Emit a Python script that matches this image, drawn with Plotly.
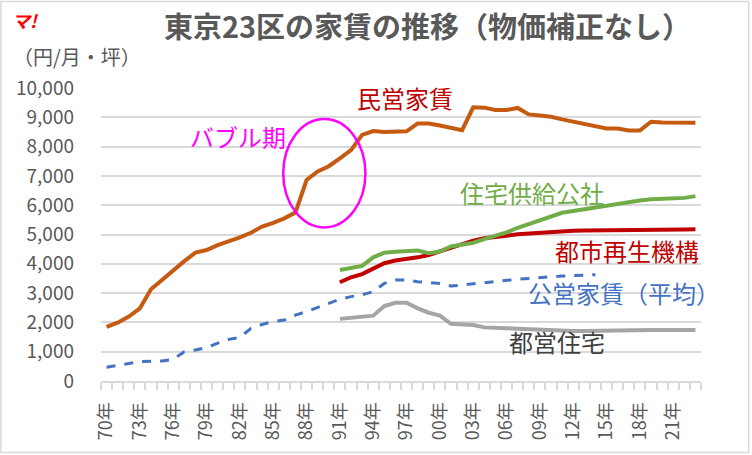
import plotly.graph_objects as go

years = list(range(1970, 2024))

# 民営家賃 1970-2023
private_rent = [1850, 1990, 2200, 2480, 3130, 3450, 3790, 4090, 4380, 4470,
                4640, 4760, 4900, 5060, 5270, 5400, 5550, 5750, 6860, 7150,
                7330, 7600, 7880, 8400, 8530, 8500, 8500, 8520, 8790, 8790,
                8720, 8640, 8560, 9340, 9330, 9250, 9250, 9320, 9100, 9060,
                9020, 8930, 8850, 8770, 8690, 8620, 8620, 8550, 8550, 8850,
                8820, 8820, 8820, 8810]

# 住宅供給公社 / 都市再生機構 / 都営住宅 1991-2023
kosha = [3790, 3850, 3930, 4220, 4380, 4410, 4420, 4450, 4360, 4420,
         4590, 4640, 4720, 4840, 4950, 5070, 5230, 5360, 5500, 5610,
         5740, 5800, 5860, 5950, 6010, 6060, 6120, 6160, 6200, 6220,
         6240, 6250, 6310]
ur = [3370, 3540, 3650, 3850, 4020, 4110, 4150, 4220, 4300, 4420,
      4560, 4680, 4790, 4870, 4930, 4960, 5010, 5040, 5060, 5100,
      5120, 5130, 5140, 5140, 5160, 5140, 5140, 5150, 5160, 5160,
      5170, 5170, 5180]
toei = [2120, 2160, 2200, 2230, 2560, 2670, 2670, 2480, 2330, 2230,
        1950, 1945, 1910, 1830, 1800, 1800, 1780, 1760, 1740, 1730,
        1720, 1710, 1710, 1720, 1730, 1740, 1740, 1740, 1740, 1740,
        1740, 1740, 1740]

# 公営家賃（平均） 1970-2014
public_avg = [470, 535, 600, 660, 670, 685, 740, 1000, 1060, 1140,
              1290, 1420, 1490, 1800, 1930, 2030, 2080, 2250, 2370, 2510,
              2650, 2790, 2880, 2940, 3050, 3330, 3450, 3450, 3390, 3370,
              3330, 3240, 3280, 3330, 3370, 3390, 3450, 3470, 3500, 3540,
              3560, 3580, 3600, 3610, 3630]

tick_years = list(range(1970, 2024, 3))
tick_text = [f"{y % 100:02d}年" for y in tick_years]
y_ticks = list(range(0, 10001, 1000))

FONT = "Noto Sans CJK JP"
GRAY = "#595959"

fig = go.Figure()
fig.add_trace(go.Scatter(x=years[:len(public_avg)], y=public_avg, mode="lines",
                         line=dict(color="#4472C4", width=3, dash="dash")))
fig.add_trace(go.Scatter(x=years[21:], y=toei, mode="lines",
                         line=dict(color="#A5A5A5", width=4)))
fig.add_trace(go.Scatter(x=years[21:], y=ur, mode="lines",
                         line=dict(color="#C00000", width=4)))
fig.add_trace(go.Scatter(x=years[21:], y=kosha, mode="lines",
                         line=dict(color="#70AD47", width=4)))
fig.add_trace(go.Scatter(x=years, y=private_rent, mode="lines",
                         line=dict(color="#C55A11", width=4)))

# bubble period circle
fig.add_shape(type="circle", xref="x", yref="y", x0=1985.9, x1=1993.3, y0=5240, y1=8940,
              line=dict(color="#FF00FF", width=2.5))

# outer frame
fig.add_shape(type="rect", xref="paper", yref="paper", x0=-0.1667, x1=1.0795, y0=-0.244, y1=1.295,
              line=dict(color="#D9D9D9", width=1.5))

labels = [
    ("民営家賃", 1996.9, 9660, "#C00000"),
    ("バブル期", 1981.8, 8340, "#FF00FF"),
    ("住宅供給公社", 2008.3, 6420, "#70AD47"),
    ("都市再生機構", 2016.8, 4470, "#C00000"),
    ("公営家賃（平均）", 2016.6, 3010, "#4472C4"),
    ("都営住宅", 2010.5, 1340, "#404040"),
]
for text, x, y, color in labels:
    fig.add_annotation(text=text, x=x, y=y, xref="x", yref="y", showarrow=False,
                       xanchor="center", yanchor="middle",
                       font=dict(family=FONT, size=24, color=color))

fig.add_annotation(text="（円/月・坪）", xref="paper", yref="paper", x=-0.15, y=1.106,
                   xanchor="left", yanchor="middle", showarrow=False,
                   font=dict(family=FONT, size=20, color=GRAY))
fig.add_annotation(text="<b><i>マ!</i></b>", xref="paper", yref="paper", x=-0.152, y=1.232,
                   xanchor="left", yanchor="middle", showarrow=False,
                   font=dict(family=FONT, size=18, color="#FF0000"))

fig.update_layout(
    width=752, height=455,
    margin=dict(l=101, r=51, t=88, b=74),
    plot_bgcolor="white", paper_bgcolor="white",
    showlegend=False,
    title=dict(text="<b>東京23区の家賃の推移（物価補正なし）</b>", x=0.5685, xanchor="center",
               y=0.938, yanchor="middle", font=dict(family=FONT, size=29, color=GRAY)),
    xaxis=dict(range=[1969.5, 2023.5], tickmode="array", tickvals=tick_years, ticktext=tick_text,
               tickangle=-90, ticks="", showgrid=False, zeroline=False,
               showline=True, linecolor="#D9D9D9", linewidth=2,
               ticklabelstandoff=12,
               tickfont=dict(family=FONT, size=18, color=GRAY),
               minor=dict(ticks="outside", tick0=1969.5, dtick=1, ticklen=7,
                          tickcolor="#D9D9D9", tickwidth=1.5, showgrid=False)),
    yaxis=dict(range=[0, 10000], tickmode="array", tickvals=y_ticks,
               ticktext=[f"{v:,}" for v in y_ticks], ticks="",
               showgrid=True, gridcolor="#D9D9D9", gridwidth=1.5, zeroline=False,
               ticklabelstandoff=26,
               tickfont=dict(family=FONT, size=19, color=GRAY)),
)

# drop the default page margin so the figure sits at the window's corner
fig.write_html("out.html", config={"displayModeBar": False},
               post_script="document.body.style.margin='0';")
